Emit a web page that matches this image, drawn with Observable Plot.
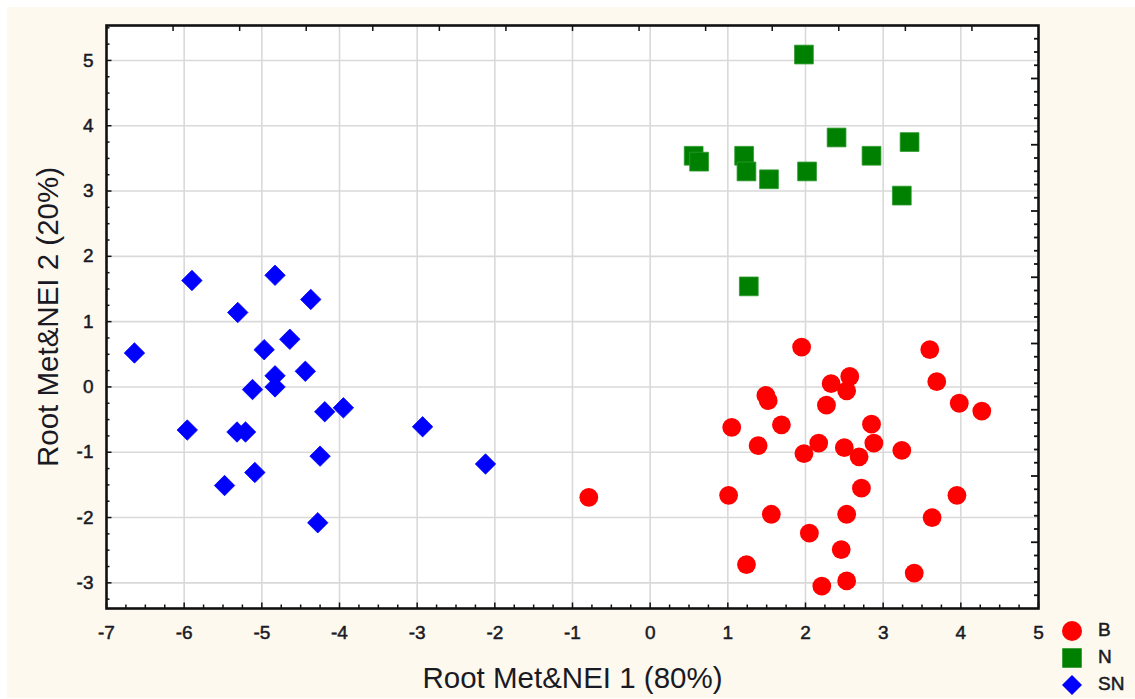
<!DOCTYPE html>
<html>
<head>
<meta charset="utf-8">
<script src="https://cdn.jsdelivr.net/npm/d3@7"></script>
<script src="https://cdn.jsdelivr.net/npm/@observablehq/plot@0.6"></script>
<style>
  html, body { margin: 0; padding: 0; background: #ffffff; }
  #page { position: relative; width: 1135px; height: 699px; overflow: hidden; }
  #cream { position: absolute; left: 7px; top: 7px; width: 1128px; height: 691px; background: #fdf9ef; }
  #chart { position: absolute; left: 0; top: 0; }
  #legend { position: absolute; left: 1060px; top: 619px; font-family: "Liberation Sans", Arial, sans-serif; font-size: 19px; color: #1a1a24; -webkit-text-stroke: 0.5px #1a1a24; }
  .row { position: absolute; left: 0; height: 24px; width: 80px; }
  .row svg { position: absolute; left: 0; top: 0; }
  .row span { position: absolute; left: 38px; top: 0px; }
</style>
</head>
<body>
<div id="page">
  <div id="cream"></div>
  <div id="chart"></div>
  <div id="legend"></div>
</div>
<script>
// ---- Data ----
const categories = ["B", "N", "SN"];
const colors = ["#ff0000", "#008000", "#0000ff"];

const bX = [1.95, 3.60, 3.69, 2.57, 2.33, 2.53, 1.49, 1.52, 2.27, 3.98, 4.27, 1.05, 1.69, 2.85, 1.39, 2.17, 1.98, 2.50, 2.69, 2.88, 3.24, 1.01, 2.72, 3.95, 1.56, 2.53, 3.63, 2.05, 2.46, 1.24, 3.40, 2.21, 2.53, -0.79];
const bY = [0.61, 0.57, 0.08, 0.16, 0.05, -0.06, -0.13, -0.21, -0.28, -0.25, -0.37, -0.62, -0.58, -0.57, -0.90, -0.86, -1.02, -0.93, -1.07, -0.86, -0.97, -1.66, -1.55, -1.66, -1.95, -1.95, -2.00, -2.24, -2.49, -2.72, -2.85, -3.05, -2.97, -1.69];

const nX = [1.98, 0.56, 0.63, 1.21, 1.24, 1.53, 2.02, 2.40, 2.85, 3.34, 3.24, 1.27];
const nY = [5.09, 3.54, 3.45, 3.54, 3.30, 3.18, 3.30, 3.82, 3.54, 3.75, 2.93, 1.54];

const snX = [-6.64, -5.90, -4.83, -4.37, -5.31, -4.64, -4.97, -4.83, -4.44, -5.12, -4.83, -4.19, -3.95, -2.93, -5.96, -5.32, -5.21, -4.25, -2.12, -5.09, -5.48, -4.28];
const snY = [0.52, 1.63, 1.71, 1.34, 1.14, 0.73, 0.57, 0.17, 0.24, -0.04, 0.00, -0.38, -0.32, -0.61, -0.66, -0.69, -0.69, -1.06, -1.18, -1.31, -1.51, -2.08];

const xTickValues = [-7, -6, -5, -4, -3, -2, -1, 0, 1, 2, 3, 4, 5];
const xTickLabels = ["-7", "-6", "-5", "-4", "-3", "-2", "-1", "0", "1", "2", "3", "4", "5"];
const yTickValues = [-3, -2, -1, 0, 1, 2, 3, 4, 5];
const yTickLabels = ["-3", "-2", "-1", "0", "1", "2", "3", "4", "5"];

const xTitle = "Root Met&NEI 1 (80%)";
const yTitle = "Root Met&NEI 2 (20%)";

// ---- Build ----
const toRows = (xs, ys, g) => xs.map((x, i) => ({x, y: ys[i], group: g}));
const B = toRows(bX, bY, categories[0]);
const N = toRows(nX, nY, categories[1]);
const SN = toRows(snX, snY, categories[2]);

const xDomain = [-7, 5];
const yDomain = [-3.393, 5.535];
const W = 1135, H = 699, mL = 106, mR = 97, mT = 25, mB = 91;
const kx = (W - mL - mR) / (xDomain[1] - xDomain[0]);
const ky = (H - mT - mB) / (yDomain[1] - yDomain[0]);

const xMinor = d3.range(-7, 5.0001, 0.25);
const yMinor = d3.range(-3.25, 5.5001, 0.25);
const isInt = v => Math.abs(v - Math.round(v)) < 1e-6;
const topTicks = d3.range(1, 14).map(i => xDomain[0] + i * (xDomain[1] - xDomain[0]) / 14);
const rightTicks = d3.range(1, 44).map(i => yDomain[1] - i * (yDomain[1] - yDomain[0]) / 44);

const tickColor = "#111";
const textColor = "#1a1a24";
const labelStyle = {fontSize: 19, fill: textColor, stroke: textColor, strokeWidth: 0.5};
const chart = Plot.plot({
  width: W, height: H,
  marginLeft: mL, marginRight: mR, marginTop: mT, marginBottom: mB,
  style: {background: "transparent", fontFamily: "'Liberation Sans', Arial, sans-serif", fontSize: "18px", color: textColor},
  x: {domain: xDomain, axis: null},
  y: {domain: yDomain, axis: null},
  marks: [
    Plot.frame({fill: "white", stroke: "none"}),
    Plot.ruleX(xTickValues.slice(1, -1), {stroke: "#d9d9d9", strokeWidth: 1.6}),
    Plot.ruleY(yTickValues, {stroke: "#d9d9d9", strokeWidth: 1.6}),
    // inward ticks
    Plot.ruleX(xMinor, {x: d => d, y1: yDomain[0], y2: d => yDomain[0] + (isInt(d) ? 5.5 : 3.5) / ky, stroke: tickColor, strokeWidth: 1.5}),
    Plot.ruleY(yMinor, {y: d => d, x1: xDomain[0], x2: d => xDomain[0] + (isInt(d) ? 5.5 : 3.5) / kx, stroke: tickColor, strokeWidth: 1.5}),
    Plot.ruleX(topTicks, {x: d => d, y1: yDomain[1], y2: yDomain[1] - 6 / ky, stroke: tickColor, strokeWidth: 1.5}),
    Plot.ruleY(rightTicks, {y: d => d, x1: xDomain[1], x2: (d, i) => xDomain[1] - ((i % 5 === 3) ? 7 : 4) / kx, stroke: tickColor, strokeWidth: 1.8}),
    // points
    Plot.dot(SN, {x: "x", y: "y", symbol: "diamond2", r: 9.2, fill: colors[2], stroke: colors[2], strokeWidth: 0.8, strokeLinejoin: "round"}),
    Plot.dot(N, {x: "x", y: "y", symbol: "square", r: 10.6, fill: colors[1], stroke: "#2e9a2e", strokeWidth: 0.8}),
    Plot.dot(B, {x: "x", y: "y", symbol: "circle", r: 9.4, fill: colors[0]}),
    Plot.frame({stroke: "#111", strokeWidth: 2.6}),
    // tick labels
    Plot.text(xTickValues, {x: d => d, frameAnchor: "bottom", dy: 24, lineAnchor: "middle", text: (d, i) => xTickLabels[i], ...labelStyle}),
    Plot.text(yTickValues, {y: d => d, frameAnchor: "left", dx: -13, textAnchor: "end", lineAnchor: "middle", text: (d, i) => yTickLabels[i], ...labelStyle}),
    // titles
    Plot.text([xTitle], {frameAnchor: "bottom", dy: 70, lineAnchor: "middle", fontSize: 29.5, fill: textColor}),
    Plot.text([yTitle], {frameAnchor: "left", dx: -58, rotate: -90, textAnchor: "middle", lineAnchor: "middle", fontSize: 29.5, fill: textColor})
  ]
});
document.getElementById("chart").appendChild(chart);

// ---- Legend ----
const symTypes = [d3.symbolCircle, d3.symbolSquare, d3.symbolDiamond2];
const symSizes = [314, 380, 255];
const legend = document.getElementById("legend");
const rowTops = [0, 26.5, 54];
categories.forEach((c, i) => {
  const row = document.createElement("div");
  row.className = "row";
  row.style.top = rowTops[i] + "px";
  const path = d3.symbol(symTypes[i], symSizes[i])();
  row.innerHTML = `<svg width="24" height="24" viewBox="-12 -12 24 24"><path d="${path}" fill="${colors[i]}"></path></svg><span>${c}</span>`;
  legend.appendChild(row);
});
</script>
</body>
</html>
